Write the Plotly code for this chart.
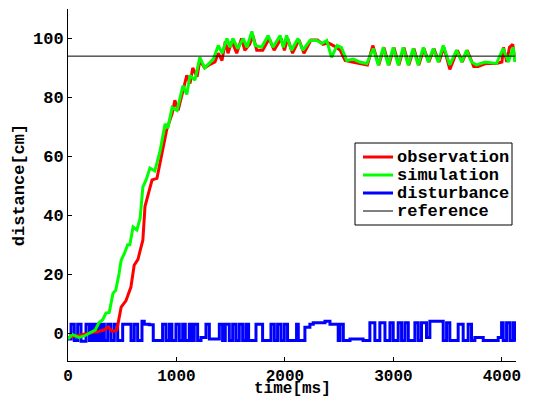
import plotly.graph_objects as go

# ---- data ----
obs_t = [0, 60, 120, 200, 280, 330, 370, 410, 450, 470, 490, 535, 580, 610, 645, 665, 690, 710,
         775, 820, 875, 910, 960, 985, 1015, 1060, 1095, 1125, 1150, 1190, 1215, 1260, 1300, 1355,
         1385, 1420, 1450, 1475, 1510, 1555, 1600, 1630, 1675, 1705, 1740, 1795, 1855, 1900, 1965,
         1995, 2025, 2070, 2130, 2175, 2240, 2300, 2350, 2400, 2450, 2510, 2555, 2620, 2700, 2760,
         2810, 2865, 2912, 2958, 3004, 3050, 3096, 3142, 3188, 3234, 3281, 3327, 3373, 3420, 3465,
         3520, 3590, 3635, 3680, 3740, 3780, 3850, 3950, 4000, 4015, 4045, 4070, 4100, 4120]
obs_y = [-1.5, -1, -0.5, 0, 0.5, 1, 2, 0.5, 1, 4.4, 8.8, 11, 15.6, 23, 25, 28, 31.5, 43,
         52, 52.5, 62, 69, 74.5, 79, 75.6, 82, 87.5, 84.7, 90, 87, 92.5, 90, 91, 92,
         95, 92.5, 99, 95, 99, 95, 100, 96, 98, 101, 96, 96, 100, 96, 100,
         96, 100, 95, 99.5, 95, 99.5, 99.5, 98, 98.5, 97.5, 96, 92.5, 92, 91.5, 91,
         97.6, 91, 97, 91, 97, 91, 97, 91, 96.6, 91, 96.6, 92, 96.6, 92, 97,
         89.5, 96, 92, 96, 90.5, 90.5, 91.5, 91.5, 92, 97, 92, 97, 98, 92.5]

sim_t = [0, 40, 100, 150, 200, 250, 285, 320, 350, 380, 415, 440, 470, 490, 520, 550, 570, 600,
         635, 665, 690, 720, 755, 800, 850, 895, 920, 960, 1005, 1060, 1095, 1125, 1170, 1215,
         1260, 1300, 1340, 1385, 1420, 1465, 1495, 1520, 1565, 1615, 1650, 1695, 1725, 1785, 1845,
         1890, 1955, 1985, 2015, 2060, 2120, 2165, 2230, 2295, 2340, 2385, 2430, 2480, 2520, 2570,
         2630, 2690, 2755, 2814, 2860, 2906, 2952, 2998, 3044, 3090, 3136, 3182, 3228, 3275, 3321,
         3367, 3413, 3459, 3520, 3582, 3630, 3674, 3720, 3766, 3845, 3950, 4012, 4060, 4104, 4120]
sim_y = [-2, -0.5, -1.5, -1, 0, 1, 3.5, 4.5, 6.8, 7, 13.5, 14.5, 20, 24.7, 27, 30, 30, 36,
         35, 39, 49.5, 52, 56, 55, 62, 71, 69.5, 76.6, 75.6, 84, 81, 87.5, 85.8, 93.6,
         90, 91.5, 93, 97.6, 95, 100, 97, 100, 96.6, 100, 97, 102.4, 97.6, 97, 101,
         97, 101, 97, 101, 96, 100, 96, 99.3, 99.3, 98.3, 99.3, 93.6, 97.6, 97, 92.5,
         93, 92, 91.5, 96.6, 91, 97, 91, 97, 91, 97, 91, 96.6, 91, 97, 92,
         96.6, 92, 97.6, 91, 96, 92, 96, 92, 91, 92, 91.5, 96.6, 92, 97, 92]

dist_t = [0, 28, 58, 89, 120, 166, 197, 221, 243, 264, 289, 313, 335, 366, 396, 427, 458, 504,
          581, 611, 642, 682, 703, 750, 786, 872, 903, 934, 958, 995, 1026, 1057, 1081, 1118,
          1143, 1164, 1195, 1226, 1272, 1303, 1395, 1425, 1450, 1487, 1518, 1548, 1579, 1610,
          1640, 1665, 1733, 1794, 1871, 1902, 1932, 1963, 1994, 2024, 2107, 2123, 2184, 2230,
          2261, 2369, 2415, 2491, 2507, 2538, 2600, 2720, 2783, 2829, 2875, 2922, 2968, 2998,
          3044, 3075, 3106, 3137, 3198, 3229, 3259, 3305, 3336, 3459, 3490, 3520, 3597, 3643,
          3689, 3720, 3751, 3828, 3966, 3997, 4012, 4043, 4074, 4104, 4120]
dist_y = [-2, 3, -2.5, 3, -2.8, 3, -2.5, 3, -2.5, 3, -2.5, 3, -2.5, 3, -2.5, 3, -2.5, 3,
          -2.5, 3, -2.5, 4, 3, 2.8, -2.5, 3, -2.5, 3, -2.5, 3, -2.5, 3, -2.5, 3,
          -2.5, 3, -2.5, -1.5, 3, -2, 3, -2.5, 3, -2.5, 3, -2.5, 3, -2.5,
          3, -2.5, 3, -2.5, 3, -2.5, 3, -2.5, 3, -2.5, 3, -2.5, 2, 3,
          3.5, 4, 3, -2.5, 3, -2.5, -2, -2.5, 3.5, -2.5, 3.5, -2.5, 3.5, -2.5,
          3.5, -2.5, 3.5, -2.5, 3.5, -2.5, 3.5, -1.5, 4, -2.5, 3.5, -2.5, 3, -2.5,
          3, -2.5, -1.5, -2.5, -1.5, 3.5, -2.5, 3.5, -2.5, 3.5, -3]

ref_t = [0, 4120]
ref_y = [94, 94]

x_ticks = [0, 1000, 2000, 3000, 4000]
y_ticks = [0, 20, 40, 60, 80, 100]

series_names = ["observation", "simulation", "disturbance", "reference"]
series_colors = ["#FF0000", "#00FF00", "#0000FF", "black"]
series_widths = [3, 3, 3, 1]

FAMILY = "Liberation Mono, Courier New, monospace"
FONT = dict(family=FAMILY, size=17, color="black", weight="bold")
FONT_X = dict(family=FAMILY, size=16, color="black", weight="bold")

fig = go.Figure()
fig.add_trace(go.Scatter(x=dist_t, y=dist_y, mode="lines", name=series_names[2],
                         line=dict(color=series_colors[2], width=series_widths[2], shape="hv")))
fig.add_trace(go.Scatter(x=obs_t, y=obs_y, mode="lines", name=series_names[0],
                         line=dict(color=series_colors[0], width=series_widths[0])))
fig.add_trace(go.Scatter(x=sim_t, y=sim_y, mode="lines", name=series_names[1],
                         line=dict(color=series_colors[1], width=series_widths[1])))
fig.add_trace(go.Scatter(x=ref_t, y=ref_y, mode="lines", name=series_names[3],
                         line=dict(color=series_colors[3], width=series_widths[3])))

# ---- legend box drawn in paper coordinates (compact, MATLAB-like) ----
H = 399
PLOT_L, PLOT_R, PLOT_T, PLOT_B = 68, 516, 9, 361


def px_x(p):
    return (p - PLOT_L) / (PLOT_R - PLOT_L)


def px_y(p):
    return (PLOT_B - p) / (PLOT_B - PLOT_T)


shapes = [dict(type="rect", xref="paper", yref="paper",
               x0=px_x(355), x1=px_x(512), y0=px_y(225), y1=px_y(143),
               line=dict(color="black", width=1), fillcolor="white", layer="above")]
annotations = []
row_y = [157, 175, 193, 211]
for name, col, w, ry in zip(series_names, series_colors, series_widths, row_y):
    shapes.append(dict(type="line", xref="paper", yref="paper",
                       x0=px_x(363), x1=px_x(393), y0=px_y(ry), y1=px_y(ry),
                       line=dict(color=col, width=w), layer="above"))
    annotations.append(dict(xref="paper", yref="paper", x=px_x(395), y=px_y(ry),
                            xanchor="left", yanchor="middle", text=name,
                            showarrow=False, font=FONT))

# x-axis title placed just under the tick labels, as in the reference
annotations.append(dict(xref="paper", yref="paper", x=0.5, y=px_y(389),
                        xanchor="center", yanchor="middle", text="time[ms]",
                        showarrow=False, font=FONT_X, borderpad=0))

fig.update_layout(
    width=534, height=H, autosize=False,
    margin=dict(l=PLOT_L, r=534 - PLOT_R, t=PLOT_T, b=H - PLOT_B),
    paper_bgcolor="white", plot_bgcolor="white",
    font=FONT,
    showlegend=False,
    shapes=shapes,
    annotations=annotations,
    xaxis=dict(range=[0, 4130], tickvals=x_ticks, ticks="inside", ticklen=4,
               tickcolor="black", showline=True, linecolor="black", linewidth=1,
               showgrid=False, zeroline=False, tickfont=FONT_X, automargin=False),
    yaxis=dict(range=[-9.5, 110], tickvals=y_ticks, ticks="inside", ticklen=4,
               tickcolor="black", showline=True, linecolor="black", linewidth=1,
               showgrid=False, zeroline=False, tickfont=FONT, automargin=False,
               title=dict(text="distance[cm]", font=FONT, standoff=4)),
)

fig.write_html("out.html")
